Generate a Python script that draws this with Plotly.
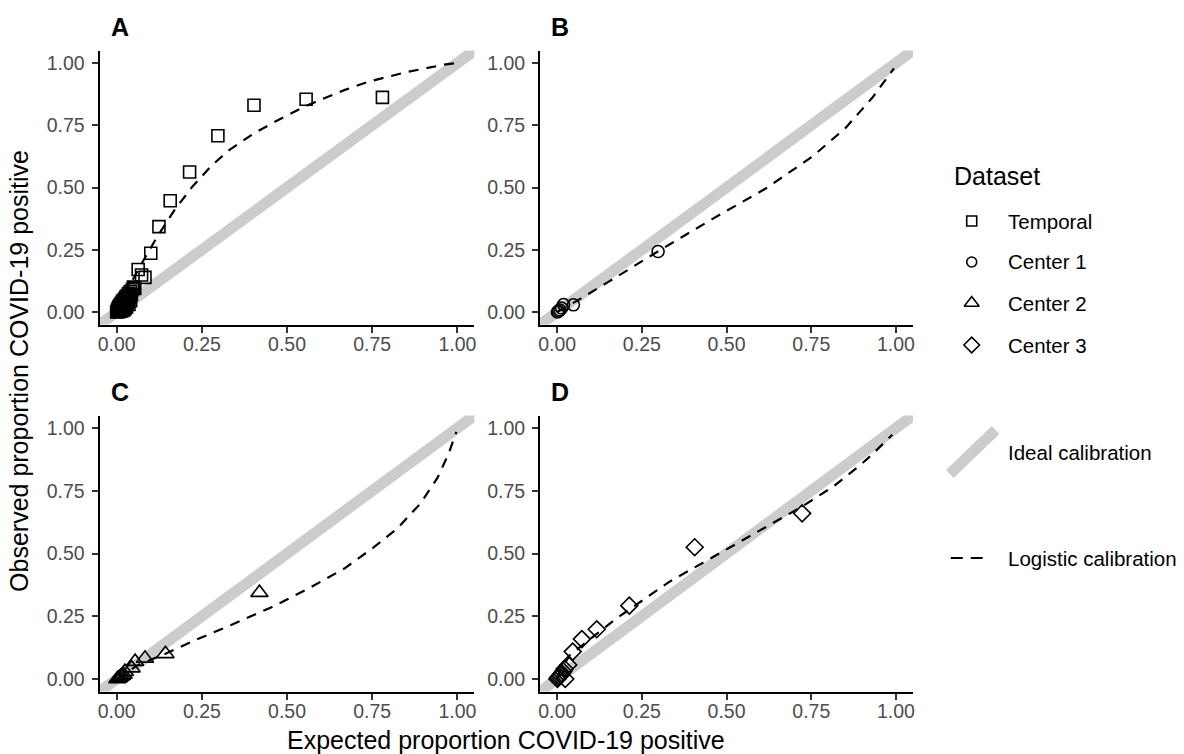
import plotly.graph_objects as go

W, H = 1184, 754
FONT = "Liberation Sans, Arial, Helvetica, sans-serif"

# ---- Temporal validation (panel A) ----
temporal_x = [0.000, 0.002, 0.003, 0.004, 0.005, 0.006, 0.007, 0.008, 0.009, 0.010,
              0.011, 0.012, 0.013, 0.014, 0.015, 0.016, 0.017, 0.018, 0.019, 0.020,
              0.021, 0.022, 0.023, 0.024, 0.025, 0.026, 0.027, 0.028, 0.029, 0.030,
              0.031, 0.032, 0.034, 0.035, 0.036, 0.038, 0.040, 0.041, 0.043, 0.046,
              0.049, 0.053, 0.063, 0.073, 0.083, 0.100, 0.124, 0.157, 0.214, 0.297,
              0.403, 0.556, 0.780]
temporal_y = [0.000, 0.004, 0.010, 0.001, 0.016, 0.006, 0.022, 0.012, 0.002, 0.028,
              0.018, 0.008, 0.034, 0.024, 0.004, 0.040, 0.014, 0.030, 0.046, 0.020,
              0.008, 0.036, 0.052, 0.026, 0.014, 0.044, 0.060, 0.032, 0.020, 0.050,
              0.066, 0.038, 0.056, 0.074, 0.030, 0.062, 0.082, 0.046, 0.070, 0.090,
              0.100, 0.095, 0.171, 0.149, 0.139, 0.236, 0.343, 0.447, 0.562, 0.708,
              0.830, 0.854, 0.862]
temporal_fit_x = [0.0, 0.030, 0.065, 0.090, 0.120, 0.170, 0.220, 0.280, 0.330, 0.400,
                  0.470, 0.556, 0.670, 0.740, 0.850, 0.960, 1.0]
temporal_fit_y = [0.0, 0.085, 0.175, 0.235, 0.305, 0.410, 0.500, 0.590, 0.650, 0.715,
                  0.768, 0.828, 0.892, 0.925, 0.963, 0.993, 1.0]

# ---- Center 1 (panel B) ----
center1_x = [0.001, 0.004, 0.008, 0.013, 0.019, 0.048, 0.298]
center1_y = [0.000, 0.004, 0.008, 0.016, 0.030, 0.029, 0.243]
center1_fit_x = [0.0, 0.058, 0.150, 0.303, 0.460, 0.617, 0.754, 0.852, 0.930, 0.994]
center1_fit_y = [0.0, 0.045, 0.120, 0.248, 0.375, 0.497, 0.625, 0.740, 0.860, 0.978]

# ---- Center 2 (panel C) ----
center2_x = [0.002, 0.005, 0.008, 0.012, 0.016, 0.020, 0.024, 0.044, 0.054, 0.083, 0.143, 0.419]
center2_y = [0.000, 0.003, 0.006, 0.010, 0.014, 0.018, 0.029, 0.043, 0.069, 0.082, 0.100, 0.344]
center2_fit_x = [0.0, 0.063, 0.143, 0.219, 0.336, 0.453, 0.560, 0.668, 0.755, 0.824,
                 0.892, 0.941, 0.975, 0.997]
center2_fit_y = [0.0, 0.056, 0.100, 0.148, 0.215, 0.285, 0.358, 0.440, 0.525, 0.600,
                 0.700, 0.800, 0.900, 0.985]

# ---- Center 3 (panel D) ----
center3_x = [0.001, 0.003, 0.006, 0.010, 0.014, 0.018, 0.022, 0.024, 0.033, 0.046,
             0.073, 0.117, 0.213, 0.406, 0.723]
center3_y = [0.000, 0.005, 0.010, 0.015, 0.022, 0.030, 0.040, 0.000, 0.056, 0.109,
             0.159, 0.198, 0.292, 0.525, 0.660]
center3_fit_x = [0.0, 0.010, 0.038, 0.131, 0.176, 0.332, 0.489, 0.636, 0.720, 0.813,
                 0.891, 0.930, 0.989]
center3_fit_y = [0.0, 0.035, 0.096, 0.196, 0.242, 0.388, 0.507, 0.621, 0.685, 0.765,
                 0.848, 0.895, 0.973]

# Ideal calibration: the identity line, extended past the panel limits
ideal_x = [-0.1, 1.1]
ideal_y = [-0.1, 1.1]

tick_vals = [0, 0.25, 0.5, 0.75, 1.0]
tick_text = ["0.00", "0.25", "0.50", "0.75", "1.00"]

dataset_names = ["Temporal", "Center 1", "Center 2", "Center 3"]
dataset_symbols = ["square-open", "circle-open", "triangle-up-open", "diamond-open"]
dataset_sizes = [12, 12, 15, 13]

panels = [
    ("A", temporal_x, temporal_y, temporal_fit_x, temporal_fit_y, 0),
    ("B", center1_x, center1_y, center1_fit_x, center1_fit_y, 1),
    ("C", center2_x, center2_y, center2_fit_x, center2_fit_y, 2),
    ("D", center3_x, center3_y, center3_fit_x, center3_fit_y, 3),
]

# panel boxes in pixels: (left, right, top, bottom)
boxes = [(98, 474, 50.5, 324.5), (540, 914, 50.5, 324.5),
         (98, 474, 415.5, 691.5), (540, 914, 415.5, 691.5)]

GRAY = "#CCCCCC"
fig = go.Figure()
layout = dict(
    width=W, height=H, margin=dict(l=0, r=0, t=0, b=0),
    plot_bgcolor="white", paper_bgcolor="white", showlegend=False,
    font=dict(family=FONT, color="black"),
)

for i, (letter, px, py, fx, fy, k) in enumerate(panels):
    n = "" if i == 0 else str(i + 1)
    xa, ya = "x" + n, "y" + n
    left, right, top, bottom = boxes[i]
    axis_common = dict(
        range=[-0.05, 1.05], showgrid=False, zeroline=False,
        showline=True, linecolor="black", linewidth=2.2,
        ticks="outside", ticklen=6, tickwidth=2, tickcolor="#333333",
        tickvals=tick_vals, ticktext=tick_text,
        tickfont=dict(family=FONT, size=19.5, color="#4D4D4D"),
        fixedrange=True,
    )
    layout["xaxis" + n] = dict(axis_common, domain=[left / W, right / W], anchor=ya,
                               ticklabelstandoff=-5)
    layout["yaxis" + n] = dict(axis_common, domain=[1 - bottom / H, 1 - top / H], anchor=xa,
                               ticklabelstandoff=3)

    fig.add_trace(go.Scatter(x=ideal_x, y=ideal_y, mode="lines", xaxis=xa, yaxis=ya,
                             line=dict(color=GRAY, width=11), hoverinfo="skip"))
    fig.add_trace(go.Scatter(x=px, y=py, mode="markers", xaxis=xa, yaxis=ya,
                             name=dataset_names[k],
                             marker=dict(symbol=dataset_symbols[k], size=dataset_sizes[k],
                                         color="black", line=dict(color="black", width=1.6))))
    fig.add_trace(go.Scatter(x=fx, y=fy, mode="lines", xaxis=xa, yaxis=ya,
                             line=dict(color="black", width=2.2, dash="10px,8px"),
                             hoverinfo="skip"))

# Legend area as a pixel-based helper axis
layout["xaxis5"] = dict(domain=[930 / W, 1], range=[930, W], visible=False, fixedrange=True, anchor="y5")
layout["yaxis5"] = dict(domain=[0, 1], range=[H, 0], visible=False, fixedrange=True, anchor="x5")

legend_rows = [221, 262, 303, 345]
legend_sizes = [10, 10, 13, 12]
for k in range(4):
    fig.add_trace(go.Scatter(x=[973], y=[legend_rows[k]], mode="markers", xaxis="x5", yaxis="y5",
                             marker=dict(symbol=dataset_symbols[k], size=legend_sizes[k],
                                         color="black", line=dict(color="black", width=1.6)),
                             hoverinfo="skip"))
fig.add_trace(go.Scatter(x=[951, 997], y=[474, 430], mode="lines", xaxis="x5", yaxis="y5",
                         line=dict(color=GRAY, width=11), hoverinfo="skip"))
fig.add_trace(go.Scatter(x=[952, 984], y=[558, 558], mode="lines", xaxis="x5", yaxis="y5",
                         line=dict(color="black", width=2.2, dash="12px,8px"), hoverinfo="skip"))

ann = []


def add_text(text, x, y, size, xanchor="left", yanchor="middle", angle=0, color="black"):
    ann.append(dict(text=text, x=x / W, y=1 - y / H, xref="paper", yref="paper",
                    xanchor=xanchor, yanchor=yanchor, showarrow=False, textangle=angle,
                    font=dict(family=FONT, size=size, color=color)))


for i, (letter, *_rest) in enumerate(panels):
    left, right, top, bottom = boxes[i]
    add_text("<b>" + letter + "</b>", left + 9, top - 24, 25)

add_text("Dataset", 953, 176, 25)
for k in range(4):
    add_text(dataset_names[k], 1007, legend_rows[k], 20.5)
add_text("Ideal calibration", 1007, 452, 20.5)
add_text("Logistic calibration", 1007, 558, 20.5)

add_text("Expected proportion COVID-19 positive", 506, 740, 25, xanchor="center")
add_text("Observed proportion COVID-19 positive", 17, 371, 25, xanchor="center", angle=-90)

layout["annotations"] = ann
fig.update_layout(**layout)
fig.write_html("out.html")
